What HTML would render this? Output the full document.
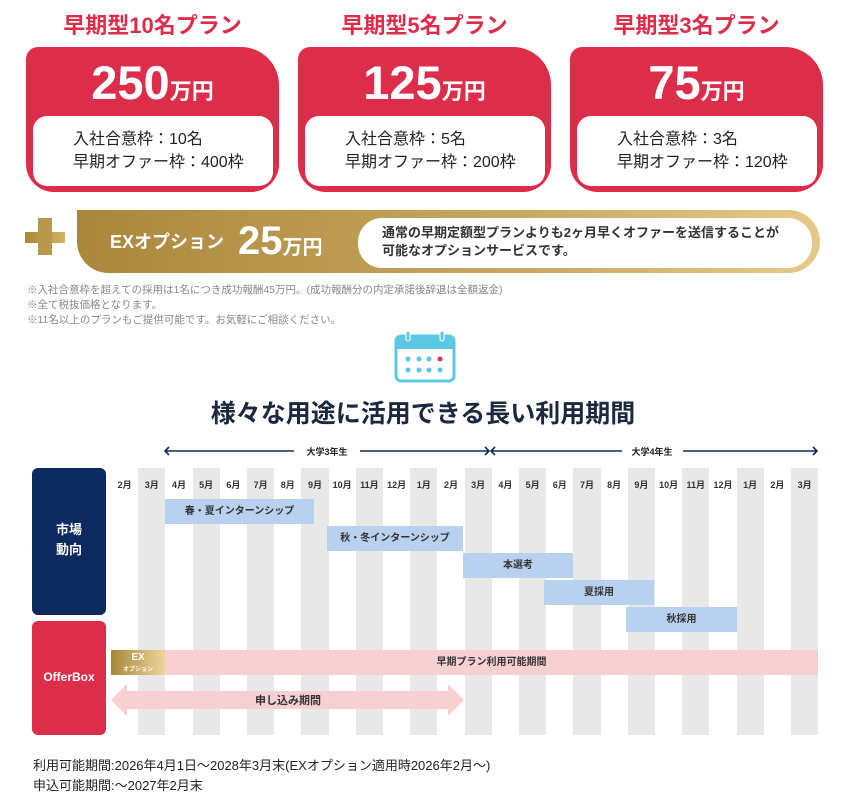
<!DOCTYPE html>
<html><head><meta charset="utf-8"><style>
*{margin:0;padding:0;box-sizing:border-box}
body{width:846px;height:804px;background:#fff;position:relative;overflow:hidden;font-family:"Liberation Sans","Noto Sans CJK JP",sans-serif;color:#222}
.a{position:absolute}
.ttl{color:#dc2d4b;font-weight:bold;font-size:22px;text-align:center;width:253px;top:8px}
.card{top:47px;width:253px;height:145px;background:#dc2d4b;border-radius:12px 38px 28px 28px}
.price{position:absolute;top:8px;left:0;width:100%;text-align:center;color:#fff;font-weight:bold;font-size:47px;line-height:56px}
.price span{font-size:22px}
.inner{position:absolute;left:7px;top:69px;width:240px;height:70px;background:#fff;border-radius:14px;padding:12px 0 0 40px;font-size:16px;line-height:23px;color:#222}
.col{position:absolute;top:468px;width:27.2px;height:267px;background:#e8e8e8}
.mon{position:absolute;top:478px;width:27.2px;text-align:center;font-size:9px;font-weight:bold;color:#333}
.bar{position:absolute;height:25px;background:#b8d1ef;font-size:10px;font-weight:bold;text-align:center;line-height:25px;color:#333}
</style></head><body>
<div class="a ttl" style="left:26px">早期型10名プラン</div>
<div class="a ttl" style="left:298px">早期型5名プラン</div>
<div class="a ttl" style="left:570px">早期型3名プラン</div>
<div class="a card" style="left:26px"><div class="price">250<span>万円</span></div><div class="inner">入社合意枠：10名<br>早期オファー枠：400枠</div></div>
<div class="a card" style="left:298px"><div class="price">125<span>万円</span></div><div class="inner">入社合意枠：5名<br>早期オファー枠：200枠</div></div>
<div class="a card" style="left:570px"><div class="price">75<span>万円</span></div><div class="inner">入社合意枠：3名<br>早期オファー枠：120枠</div></div>

<div class="a" style="left:25px;top:232px;width:40px;height:11px;background:linear-gradient(90deg,#a88838,#d2b162)"></div>
<div class="a" style="left:38px;top:218px;width:14px;height:37px;background:#b8984a"></div>
<div class="a" style="left:77px;top:210px;width:743px;height:63px;background:linear-gradient(90deg,#a9873c,#c9a85f 60%,#e6c98a);border-radius:0 32px 32px 32px"></div>
<div class="a" style="left:110px;top:228px;color:#fff;font-weight:bold;font-size:18px">EXオプション</div>
<div class="a" style="left:238px;top:216px;color:#fff;font-weight:bold;font-size:40px;line-height:50px">25<span style="font-size:20px">万円</span></div>
<div class="a" style="left:358px;top:218px;width:454px;height:50px;background:#fff;border-radius:24px;padding:6px 0 0 24px;font-size:13px;line-height:18px;font-weight:bold;color:#333">通常の早期定額型プランよりも2ヶ月早くオファーを送信することが<br>可能なオプションサービスです。</div>

<div class="a" style="left:27px;top:283px;font-size:10.5px;line-height:15px;color:#888">※入社合意枠を超えての採用は1名につき成功報酬45万円。(成功報酬分の内定承諾後辞退は全額返金)<br>※全て税抜価格となります。<br>※11名以上のプランもご提供可能です。お気軽にご相談ください。</div>

<svg class="a" style="left:394px;top:330px" width="62" height="54" viewBox="0 0 62 54">
<rect x="2" y="6" width="58" height="45" rx="5" fill="none" stroke="#5cc8e4" stroke-width="3"/>
<path d="M2 11a5 5 0 0 1 5-5h48a5 5 0 0 1 5 5v8H2z" fill="#5cc8e4"/>
<rect x="12" y="1" width="4" height="10" rx="2" fill="#5cc8e4" stroke="#fff" stroke-width="1"/>
<rect x="46" y="1" width="4" height="10" rx="2" fill="#5cc8e4" stroke="#fff" stroke-width="1"/>
<g fill="#5cc8e4"><circle cx="14" cy="29" r="2.5"/><circle cx="25" cy="29" r="2.5"/><circle cx="35" cy="29" r="2.5"/><circle cx="14" cy="40" r="2.5"/><circle cx="25" cy="40" r="2.5"/><circle cx="35" cy="40" r="2.5"/><circle cx="46" cy="40" r="2.5"/></g>
<circle cx="46" cy="29" r="2.5" fill="#e23344"/>
</svg>
<div class="a" style="left:0;width:846px;top:394px;text-align:center;font-size:25px;font-weight:bold;color:#1c2840">様々な用途に活用できる長い利用期間</div>

<svg class="a" style="left:160px;top:443px" width="665" height="16">
<g stroke="#0c2a5e" stroke-width="1.6" fill="none">
<line x1="5" y1="8" x2="134" y2="8"/><line x1="200" y1="8" x2="329" y2="8"/>
<line x1="331" y1="8" x2="462" y2="8"/><line x1="523" y1="8" x2="657" y2="8"/>
<path d="M9 4l-4 4 4 4M325 4l4 4-4 4M335 4l-4 4 4 4M653 4l4 4-4 4"/></g>
<text x="167" y="12" font-size="9" font-weight="bold" text-anchor="middle" fill="#222" font-family="Liberation Sans,Noto Sans CJK JP,sans-serif">大学3年生</text>
<text x="492" y="12" font-size="9" font-weight="bold" text-anchor="middle" fill="#222" font-family="Liberation Sans,Noto Sans CJK JP,sans-serif">大学4年生</text>
</svg>

<div class="col" style="left:138.2px"></div><div class="col" style="left:192.6px"></div><div class="col" style="left:247px"></div><div class="col" style="left:301.4px"></div><div class="col" style="left:355.8px"></div><div class="col" style="left:410.2px"></div><div class="col" style="left:464.6px"></div><div class="col" style="left:519px"></div><div class="col" style="left:573.4px"></div><div class="col" style="left:627.8px"></div><div class="col" style="left:682.2px"></div><div class="col" style="left:736.6px"></div><div class="col" style="left:791px"></div>

<div class="mon" style="left:111px">2月</div><div class="mon" style="left:138.2px">3月</div><div class="mon" style="left:165.4px">4月</div><div class="mon" style="left:192.6px">5月</div><div class="mon" style="left:219.8px">6月</div><div class="mon" style="left:247px">7月</div><div class="mon" style="left:274.2px">8月</div><div class="mon" style="left:301.4px">9月</div><div class="mon" style="left:328.6px">10月</div><div class="mon" style="left:355.8px">11月</div><div class="mon" style="left:383px">12月</div><div class="mon" style="left:410.2px">1月</div><div class="mon" style="left:437.4px">2月</div><div class="mon" style="left:464.6px">3月</div><div class="mon" style="left:491.8px">4月</div><div class="mon" style="left:519px">5月</div><div class="mon" style="left:546.2px">6月</div><div class="mon" style="left:573.4px">7月</div><div class="mon" style="left:600.6px">8月</div><div class="mon" style="left:627.8px">9月</div><div class="mon" style="left:655px">10月</div><div class="mon" style="left:682.2px">11月</div><div class="mon" style="left:709.4px">12月</div><div class="mon" style="left:736.6px">1月</div><div class="mon" style="left:763.8px">2月</div><div class="mon" style="left:791px">3月</div>

<div class="a" style="left:32px;top:468px;width:74px;height:147px;background:#0c2a5e;border-radius:6px;color:#fff;font-weight:bold;font-size:13px;line-height:20px;text-align:center;padding-top:52px">市場<br>動向</div>
<div class="a" style="left:32px;top:621px;width:74px;height:114px;background:#dc2d4b;border-radius:6px;color:#fff;font-weight:bold;font-size:12px;text-align:center;padding-top:49px">OfferBox</div>

<div class="bar" style="left:165px;top:499px;width:149px">春・夏インターンシップ</div>
<div class="bar" style="left:327px;top:526px;width:136px">秋・冬インターンシップ</div>
<div class="bar" style="left:463px;top:553px;width:110px">本選考</div>
<div class="bar" style="left:544px;top:580px;width:110px">夏採用</div>
<div class="bar" style="left:626px;top:607px;width:111px">秋採用</div>

<div class="a" style="left:111px;top:650px;width:54px;height:25px;background:linear-gradient(90deg,#a9873c,#ecd49a);color:#fff;font-weight:bold;text-align:center;font-size:10px;line-height:11px;padding-top:2px">EX<br><span style="font-size:6px">オプション</span></div>
<div class="bar" style="left:165px;top:650px;width:653px;background:#f9d0d2">早期プラン利用可能期間</div>
<svg class="a" style="left:111px;top:682px" width="354" height="36"><polygon points="0,18 16,2 16,9 337,9 337,2 353,18 337,34 337,27 16,27 16,34" fill="#f9d0d2"/><text x="177" y="22" font-size="11" font-weight="bold" text-anchor="middle" fill="#333" font-family="Liberation Sans,Noto Sans CJK JP,sans-serif">申し込み期間</text></svg>

<div class="a" style="left:33px;top:756px;font-size:13px;line-height:20px;color:#222">利用可能期間:2026年4月1日〜2028年3月末(EXオプション適用時2026年2月〜)<br>申込可能期間:〜2027年2月末</div>
</body></html>
